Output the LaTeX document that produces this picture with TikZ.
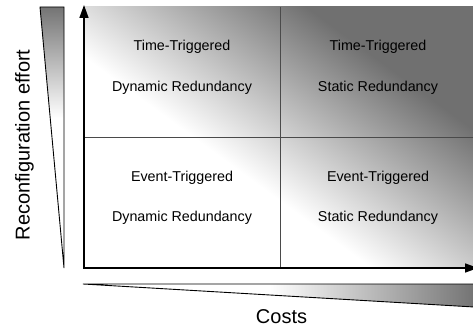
\documentclass[tikz,border=0pt]{standalone}
\usepackage{fontspec}
\setmainfont{Liberation Sans}
\usetikzlibrary{arrows.meta}
\definecolor{darkg}{HTML}{707070}
\definecolor{wedgeg}{HTML}{747474}
\definecolor{divg}{HTML}{4A4A4A}
\begin{document}
\begin{tikzpicture}[x=1pt,y=-1pt,
  celltext/.style={font=\fontsize{14.3}{17}\selectfont, anchor=base, inner sep=0pt},
  axislabel/.style={font=\fontsize{20}{24}\selectfont, anchor=base, inner sep=0pt},
  axisline/.style={line width=1.6pt, {Triangle[length=13pt,width=9pt]}-{Triangle[length=13pt,width=9pt]}},
  divider/.style={draw=divg, line width=0.9pt},
  wedge/.style={draw=black, line width=0.9pt, line join=miter}]
\useasboundingbox (0,0) rectangle (473,328);
\fill[white] (0,0) rectangle (473,328);
% gradient area
\begin{scope}
  \clip (84,7) rectangle (473,268);
  \begin{scope}[transform canvas={rotate around={53.7:(340,245)}}]
    \fill[darkg] (505,-600) rectangle (1300,1000);
    \shade[left color=white, right color=darkg] (340,-600) rectangle (512,1000);
  \end{scope}
\end{scope}
% dividers
\coordinate (vtop) at (280,7);
\coordinate (vbot) at (280,268);
\coordinate (hleft) at (84,137);
\coordinate (hright) at (473,137);
\draw[divider] (vtop) -- (vbot);
\draw[divider] (hleft) -- (hright);
% axes
\coordinate (O) at (84,268);
\coordinate (Ytip) at (84,5);
\coordinate (Xtip) at (478,268);
\draw[axisline] (Ytip) -- (O) -- (Xtip);
% left wedge
\coordinate (lw1) at (40,7);
\coordinate (lw2) at (64,7);
\coordinate (lw3) at (64,268);
\begin{scope}
  \clip (lw1) -- (lw2) -- (lw3) -- cycle;
  \shade[top color=wedgeg, bottom color=white] (38,7) rectangle (66,118);
\end{scope}
\draw[wedge] (lw1) -- (lw2) -- (lw3) -- cycle;
% bottom wedge
\coordinate (bw1) at (83,284);
\coordinate (bw2) at (474,284);
\coordinate (bw3) at (474,307);
\begin{scope}
  \clip (bw1) -- (bw2) -- (bw3) -- cycle;
  \shade[left color=white, right color=wedgeg] (270,282) rectangle (474,310);
\end{scope}
\draw[wedge] (bw1) -- (bw2) -- (bw3) -- cycle;
% texts
\node[celltext] (tt1) at (182,50.5) {Time-Triggered};
\node[celltext] (dr1) at (182,92) {Dynamic Redundancy};
\node[celltext] (tt2) at (378,50.5) {Time-Triggered};
\node[celltext] (sr1) at (378,92) {Static Redundancy};
\node[celltext] (et1) at (182,182) {Event-Triggered};
\node[celltext] (dr2) at (182,222) {Dynamic Redundancy};
\node[celltext] (et2) at (378,182) {Event-Triggered};
\node[celltext] (sr2) at (378,222) {Static Redundancy};
\node[axislabel, rotate=90] (effort) at (29.6,145) {Reconfiguration effort};
\node[axislabel] (costs) at (281.5,323) {Costs};
\end{tikzpicture}
\end{document}
